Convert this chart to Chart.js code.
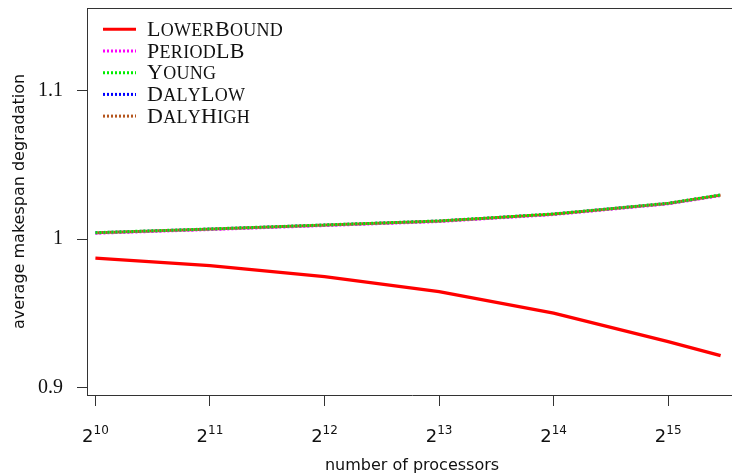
<!DOCTYPE html>
<html>
<head>
<meta charset="utf-8">
<script src="https://cdn.jsdelivr.net/npm/chart.js@4.4.1/dist/chart.umd.min.js"></script>
<style>
  html, body { margin: 0; padding: 0; background: #fff; overflow: hidden; }
</style>
</head>
<body>
<canvas id="degradationChart" width="737" height="475"></canvas>
<script>
// values
const processors = [1024, 2048, 4096, 8192, 16384, 32768, 45000];
const lowerBound = [0.9871, 0.9821, 0.9747, 0.9646, 0.9500, 0.9309, 0.9214];
const periodLB   = [1.0039, 1.0064, 1.0091, 1.0118, 1.0165, 1.0237, 1.0293];
const young      = [1.0043, 1.0068, 1.0095, 1.0122, 1.0169, 1.0241, 1.0297];
const dalyLow    = [1.0042, 1.0067, 1.0094, 1.0121, 1.0168, 1.0240, 1.0296];
const dalyHigh   = [1.0042, 1.0067, 1.0094, 1.0121, 1.0168, 1.0240, 1.0296];
const xTicks = [1024, 2048, 4096, 8192, 16384, 32768];
const yTicks = [0.9, 1, 1.1];

const pts = arr => processors.map((p, i) => ({ x: p, y: arr[i] }));
const axisColor = '#333';

// top edge of the box
const boxTop = {
  id: 'boxTop',
  afterDraw(chart) {
    const { ctx, chartArea: a } = chart;
    ctx.save();
    ctx.strokeStyle = axisColor;
    ctx.lineWidth = 1;
    ctx.beginPath();
    ctx.moveTo(a.left, a.top + 0.5);
    ctx.lineTo(a.right, a.top + 0.5);
    ctx.stroke();
    ctx.restore();
  }
};

// 2^n labels with a raised exponent
const powerLabels = {
  id: 'powerLabels',
  afterDraw(chart) {
    const { ctx } = chart;
    const xs = chart.scales.x;
    ctx.save();
    ctx.fillStyle = '#111';
    ctx.textBaseline = 'alphabetic';
    xTicks.forEach(v => {
      const px = xs.getPixelForValue(v);
      const exp = String(Math.round(Math.log2(v)));
      ctx.font = '18px "DejaVu Sans"';
      const wb = ctx.measureText('2').width;
      ctx.font = '12px "DejaVu Sans"';
      const we = ctx.measureText(exp).width;
      const x0 = px - (wb + we) / 2;
      ctx.font = '18px "DejaVu Sans"';
      ctx.fillText('2', x0, 442);
      ctx.font = '12px "DejaVu Sans"';
      ctx.fillText(exp, x0 + wb, 434);
    });
    ctx.restore();
  }
};

// small caps by hand: capitals big, lower case as smaller capitals
function smallCaps(ctx, text, x, y) {
  for (const ch of text) {
    const lower = ch !== ch.toUpperCase();
    ctx.font = (lower ? '18px' : '22px') + ' "Liberation Serif"';
    const c = ch.toUpperCase();
    ctx.fillText(c, x, y);
    x += ctx.measureText(c).width + 0.3;
  }
}

// legend inside the plot, top left
const insideLegend = {
  id: 'insideLegend',
  afterDraw(chart) {
    const { ctx, chartArea: a } = chart;
    ctx.save();
    chart.data.datasets.forEach((ds, i) => {
      const y = a.top + 21.3 + i * 21.7;
      ctx.strokeStyle = ds.borderColor;
      ctx.lineWidth = 3;
      ctx.setLineDash(ds.borderDash || []);
      ctx.beginPath();
      ctx.moveTo(a.left + 16, y);
      ctx.lineTo(a.left + 49, y);
      ctx.stroke();
      ctx.setLineDash([]);
      ctx.fillStyle = '#111';
      ctx.textBaseline = 'alphabetic';
      smallCaps(ctx, ds.label, a.left + 60, y + 6.5);
    });
    ctx.restore();
  }
};

const ctx = document.getElementById('degradationChart').getContext('2d');
const degradationChart = new Chart(ctx, {
  type: 'line',
  data: {
    datasets: [
      { label: 'LowerBound', data: pts(lowerBound), borderColor: '#ff0000', borderWidth: 3.3, order: 0 },
      { label: 'PeriodLB', data: pts(periodLB), borderColor: '#ff00ff', borderWidth: 3, borderDash: [2, 2], order: 4 },
      { label: 'Young', data: pts(young), borderColor: '#00ee00', borderWidth: 3, borderDash: [2, 2], order: 1 },
      { label: 'DalyLow', data: pts(dalyLow), borderColor: '#0000ff', borderWidth: 3, borderDash: [2, 2], order: 5 },
      { label: 'DalyHigh', data: pts(dalyHigh), borderColor: '#b5561e', borderWidth: 3, borderDash: [2, 2], borderDashOffset: 2, order: 2 }
    ]
  },
  options: {
    responsive: false,
    animation: false,
    elements: { point: { radius: 0 }, line: { tension: 0 } },
    layout: { padding: { top: 8, left: 0, right: 0, bottom: 0 } },
    plugins: { legend: { display: false }, tooltip: { enabled: false } },
    scales: {
      x: {
        type: 'logarithmic',
        min: 973.2,
        max: 49697,
        afterBuildTicks: s => { s.ticks = xTicks.map(v => ({ value: v })); },
        afterFit: s => { s.height = 80; s.paddingLeft = 0; s.paddingRight = 0; },
        ticks: { display: false },
        grid: { drawOnChartArea: false, drawTicks: true, tickLength: 11, color: axisColor },
        border: { display: true, color: axisColor, width: 1 },
        title: {
          display: true,
          text: 'number of processors',
          color: '#111',
          font: { family: 'DejaVu Sans', size: 16, lineHeight: 1 },
          padding: { top: 0, bottom: 1 }
        }
      },
      y: {
        min: 0.8949,
        max: 1.1557,
        afterBuildTicks: s => { s.ticks = yTicks.map(v => ({ value: v })); },
        afterFit: s => { s.width = 87; s.paddingTop = 0; s.paddingBottom = 0; },
        ticks: {
          color: '#111',
          padding: 14,
          font: { family: 'Liberation Serif', size: 20 },
          callback: v => String(v)
        },
        grid: { drawOnChartArea: false, drawTicks: true, tickLength: 10, color: axisColor },
        border: { display: true, color: axisColor, width: 1 },
        title: {
          display: true,
          text: 'average makespan degradation',
          color: '#111',
          font: { family: 'DejaVu Sans', size: 16, lineHeight: 1.2 },
          padding: { top: 10, bottom: 0 }
        }
      }
    }
  },
  plugins: [boxTop, powerLabels, insideLegend]
});
</script>
</body>
</html>
